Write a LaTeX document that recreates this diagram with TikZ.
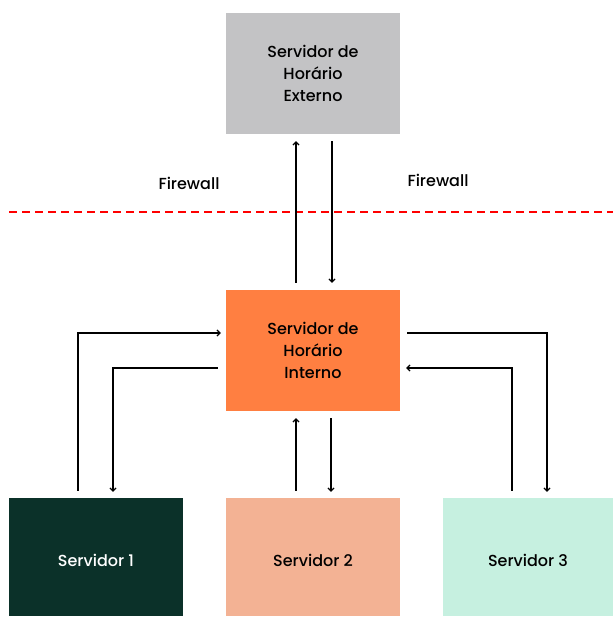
\documentclass[tikz,border=0pt]{standalone}
\usepackage{fontspec}
\setmainfont{Poppins}[UprightFont={* Medium}]
\usetikzlibrary{arrows.meta}
\definecolor{extgray}{HTML}{C3C3C5}
\definecolor{intorange}{HTML}{FF7F41}
\definecolor{darkgreen}{HTML}{0B3129}
\definecolor{peach}{HTML}{F3B294}
\definecolor{mint}{HTML}{C6F0E0}
\newcommand{\lowertxt}[1]{\raisebox{-3pt}[\height][\depth]{#1}}
\tikzset{
  box/.style={minimum width=174pt, minimum height=121pt, inner sep=0pt, align=center, font=\fontsize{16}{22}\selectfont},
  conn/.style={line width=1.2pt, -{Straight Barb[length=3pt,width=6pt]}},
  lbl/.style={font=\fontsize{16}{18}\selectfont}
}
\begin{document}
\begin{tikzpicture}[x=1pt,y=-1pt]
\useasboundingbox (0,0) rectangle (613,617);
\node[box, fill=extgray] (ext) at (313,73.5) {Servidor de\\Horário\\Externo};
\node[box, fill=intorange] (int) at (313,350.5) {Servidor de\\Horário\\Interno};
\node[box, fill=darkgreen, text=white, minimum height=118pt] (s1) at (96,557) {\lowertxt{Servidor 1}};
\node[box, fill=peach, minimum height=118pt] (s2) at (313,557) {\lowertxt{Servidor 2}};
\node[box, fill=mint, minimum width=170pt, minimum height=118pt] (s3) at (528,557) {\lowertxt{Servidor 3}};
\node[lbl] (fw1) at (189,183) {Firewall};
\node[lbl] (fw2) at (438,180) {Firewall};
\draw[red, line width=1.5pt, dash pattern=on 8pt off 5pt] (9,212) -- (613,212);
% external link
\draw[conn, shorten <=7pt, shorten >=7pt] (296,0 |- int.north) -- (296,0 |- ext.south);
\draw[conn, shorten <=7pt, shorten >=7pt] (332,0 |- ext.south) -- (332,0 |- int.north);
% servidor 2
\draw[conn, shorten <=7pt, shorten >=7pt] (296,0 |- s2.north) -- (296,0 |- int.south);
\draw[conn, shorten <=7pt, shorten >=6pt] (331,0 |- int.south) -- (331,0 |- s2.north);
% servidor 1
\draw[conn, shorten <=7pt, shorten >=5pt] (78,0 |- s1.north) |- (int.west |- 0,333);
\draw[conn, shorten <=8pt, shorten >=6pt] (int.west |- 0,368) -| (113,0 |- s1.north);
% servidor 3
\draw[conn, shorten <=7pt, shorten >=6pt] (int.east |- 0,333) -| (547,0 |- s3.north);
\draw[conn, shorten <=7pt, shorten >=6pt] (512,0 |- s3.north) |- (int.east |- 0,368);
\end{tikzpicture}
\end{document}
